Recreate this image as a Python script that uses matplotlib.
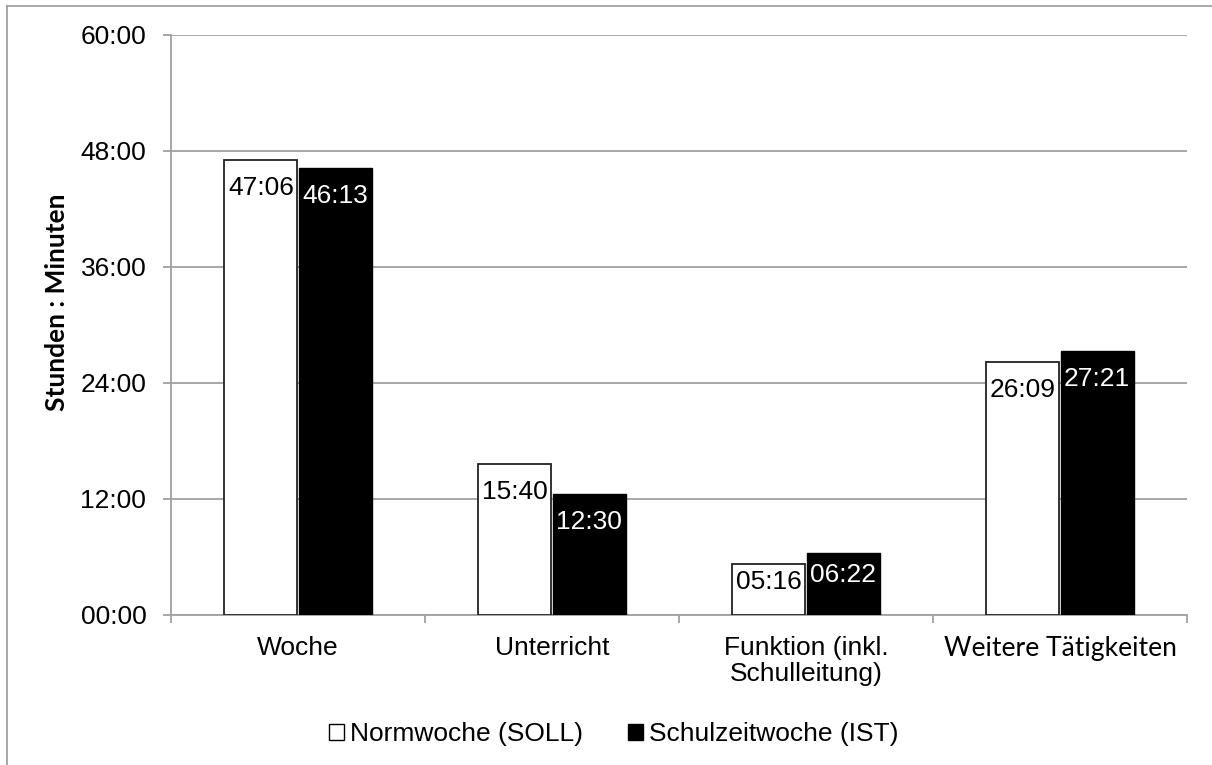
import matplotlib
matplotlib.use("Agg")
import matplotlib.pyplot as plt
from matplotlib.patches import Patch
from matplotlib.lines import Line2D
import numpy as np

categories = ["Woche", "Unterricht", "Funktion (inkl.\nSchulleitung)", "Weitere Tätigkeiten"]
soll_labels = ["47:06", "15:40", "05:16", "26:09"]
ist_labels = ["46:13", "12:30", "06:22", "27:21"]
series_names = ["Normwoche (SOLL)", "Schulzeitwoche (IST)"]
y_ticks_hours = [0, 12, 24, 36, 48, 60]


def to_hours(s):
    h, m = s.split(":")
    return int(h) + int(m) / 60.0


soll = [to_hours(s) for s in soll_labels]
ist = [to_hours(s) for s in ist_labels]

W, H = 1212, 765
DPI = 100
plt.rcParams['font.family'] = ['Liberation Sans', 'DejaVu Sans']
FS = 19
GRID = '#a0a0a0'

fig = plt.figure(figsize=(W / DPI, H / DPI), dpi=DPI)
ax = fig.add_axes([171 / W, 1 - 615 / H, (1187 - 171) / W, (615 - 35) / H])

x = np.arange(len(categories))
bw = 0.287
off = 0.146
b1 = ax.bar(x - off, soll, width=bw, color='white', edgecolor='#222222', linewidth=1.3, zorder=3)
b2 = ax.bar(x + off, ist, width=bw, color='black', edgecolor='black', linewidth=1.0, zorder=3)

ax.set_xlim(-0.5, len(categories) - 0.5)
ax.set_ylim(0, 60)
ax.set_yticks(y_ticks_hours)
ax.set_yticklabels([f"{h:02d}:00" for h in y_ticks_hours], fontsize=FS)
ax.yaxis.grid(True, color=GRID, linewidth=1.3, zorder=0)
ax.set_axisbelow(True)

ax.set_xticks(x)
ax.set_xticklabels(categories, fontsize=FS, linespacing=1.1)
# the last category label is rendered in a Calibri-like face in the reference
last = ax.get_xticklabels()[-1]
last.set_family(['Lato', 'DejaVu Sans'])
last.set_fontsize(19.1)
ax.set_xticks(np.arange(-0.5, len(categories), 1.0), minor=True)
ax.tick_params(axis='x', which='major', length=0, pad=15)
ax.tick_params(axis='x', which='minor', length=5.8, color=GRID, width=1.3, direction='out')
ax.tick_params(axis='y', length=5.8, color=GRID, width=1.3, direction='out', pad=12)

for side in ['top', 'right']:
    ax.spines[side].set_visible(False)
for side in ['left', 'bottom']:
    ax.spines[side].set_color(GRID)
    ax.spines[side].set_linewidth(1.3)

# data labels inside the bar tops
px_per_unit = (615 - 35) / 60.0
for bars, labels, col in [(b1, soll_labels, 'black'), (b2, ist_labels, 'white')]:
    for rect, lab in zip(bars, labels):
        hpx = rect.get_height() * px_per_unit
        off_px = min(16.0, 0.38 * (hpx - 36))
        ax.annotate(lab, (rect.get_x() + rect.get_width() / 2, rect.get_height()),
                    xytext=(0, -off_px * 72 / DPI), textcoords='offset points',
                    ha='center', va='top', fontsize=FS, color=col, zorder=5)

fig.text(57 / W, 1 - 302 / H, "Stunden : Minuten", rotation=90, ha='center', va='center',
         fontsize=19, fontweight='bold', family=['Lato', 'DejaVu Sans'])

handles = [Patch(facecolor='white', edgecolor='black', linewidth=1.0),
           Patch(facecolor='black', edgecolor='black', linewidth=1.0)]
fig.legend(handles, series_names, loc='center', bbox_to_anchor=(614 / W, 1 - 734 / H),
           ncol=2, frameon=False, fontsize=FS, handlelength=0.55, handleheight=0.55,
           handletextpad=0.25, columnspacing=1.7, borderaxespad=0, borderpad=0)

# outer chart border (partially visible)
fig.add_artist(Line2D([7 / W, 1.0], [1 - 6 / H, 1 - 6 / H], transform=fig.transFigure,
                      color=GRID, linewidth=1.3))
fig.add_artist(Line2D([7 / W, 7 / W], [0, 1 - 6 / H], transform=fig.transFigure,
                      color=GRID, linewidth=1.3))

fig.savefig("out.png", dpi=DPI, facecolor='white')
